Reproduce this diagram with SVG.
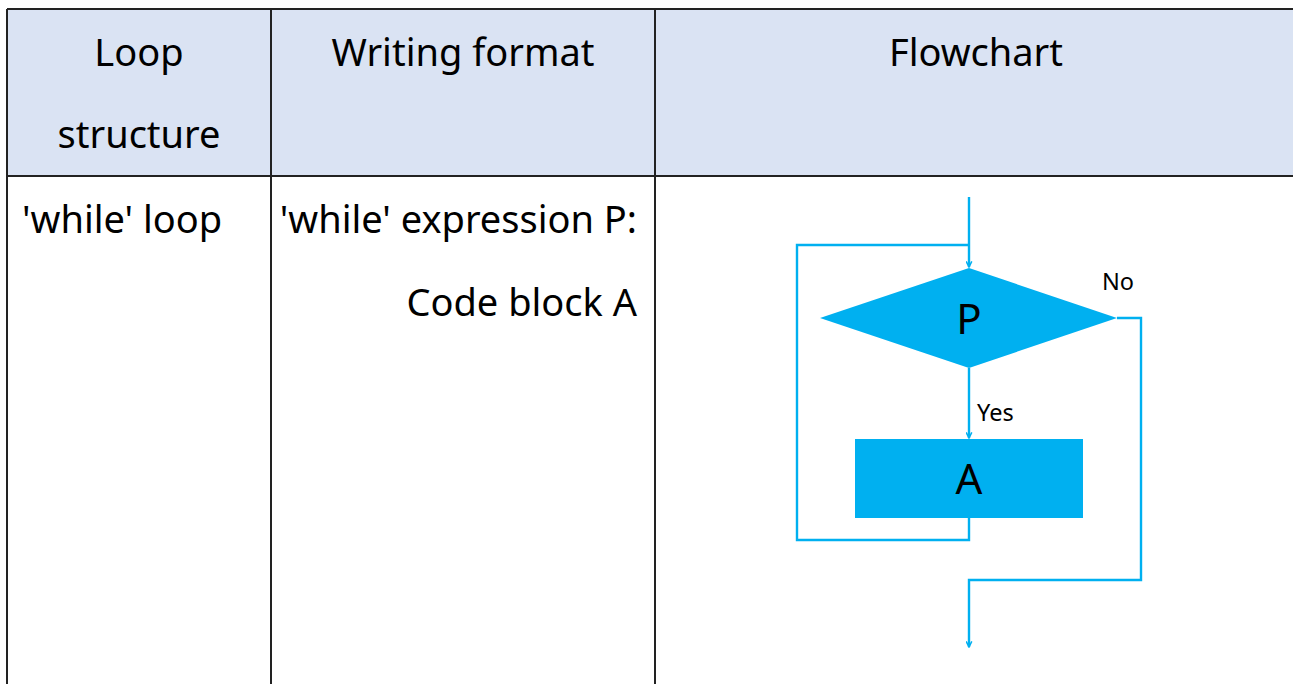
<svg xmlns="http://www.w3.org/2000/svg" width="1293" height="684" viewBox="0 0 1293 684">
<style>
.grid{stroke:#222;stroke-width:2;fill:none}
.hdr{font-family:"Noto Sans","Open Sans",sans-serif;font-size:38px;fill:#000}
.lbl{font-family:"Noto Sans","Open Sans",sans-serif;font-size:23.5px;fill:#000}
.big{font-family:"Noto Sans","Open Sans",sans-serif;font-size:42px;fill:#000;text-anchor:middle}
.conn{stroke:#00B0F0;stroke-width:2.4;fill:none}
.shape{fill:#00B0F0}
</style>
<defs>
<marker id="arr" viewBox="0 0 10 10" refX="9" refY="5" markerWidth="7" markerHeight="7" markerUnits="userSpaceOnUse" orient="auto">
<path d="M1,1 L9,5 L1,9" fill="none" stroke="#00B0F0" stroke-width="2.2"/>
</marker>
</defs>
<rect width="1293" height="684" fill="#fff"/>
<g id="table">
<rect x="7" y="9" width="1290" height="167" fill="#DAE3F3"/>
<line class="grid" x1="7" y1="9" x2="1293" y2="9"/>
<line class="grid" x1="7" y1="176" x2="1293" y2="176"/>
<line class="grid" x1="7" y1="9" x2="7" y2="684"/>
<line class="grid" x1="271" y1="9" x2="271" y2="684"/>
<line class="grid" x1="655" y1="9" x2="655" y2="684"/>
</g>
<g id="texts">
<text class="hdr" x="139" y="66" text-anchor="middle">Loop</text>
<text class="hdr" x="139" y="148" text-anchor="middle">structure</text>
<text class="hdr" x="463" y="66" text-anchor="middle">Writing format</text>
<text class="hdr" x="976" y="66" text-anchor="middle">Flowchart</text>
<text class="hdr" x="22" y="233">'while' loop</text>
<text class="hdr" x="637" y="233" text-anchor="end">'while' expression P:</text>
<text class="hdr" x="637" y="316" text-anchor="end">Code block A</text>
</g>
<g id="connectors">
<line class="conn" x1="969" y1="197" x2="969" y2="267" marker-end="url(#arr)"/>
<polyline class="conn" points="969,518 969,540 797,540 797,245 969,245"/>
<line class="conn" x1="969" y1="368" x2="969" y2="438" marker-end="url(#arr)"/>
<polyline class="conn" points="1117,318 1141,318 1141,580 969,580 969,647" marker-end="url(#arr)"/>
</g>
<g id="node-P">
<polygon class="shape" points="969,268 1117,318 969,368 820,318"/>
<text class="big" x="969" y="334">P</text>
</g>
<g id="node-A">
<rect class="shape" x="855" y="439" width="228" height="79"/>
<text class="big" x="969" y="494">A</text>
</g>
<text class="lbl" x="1102" y="290">No</text>
<text class="lbl" x="977" y="421">Yes</text>
</svg>
